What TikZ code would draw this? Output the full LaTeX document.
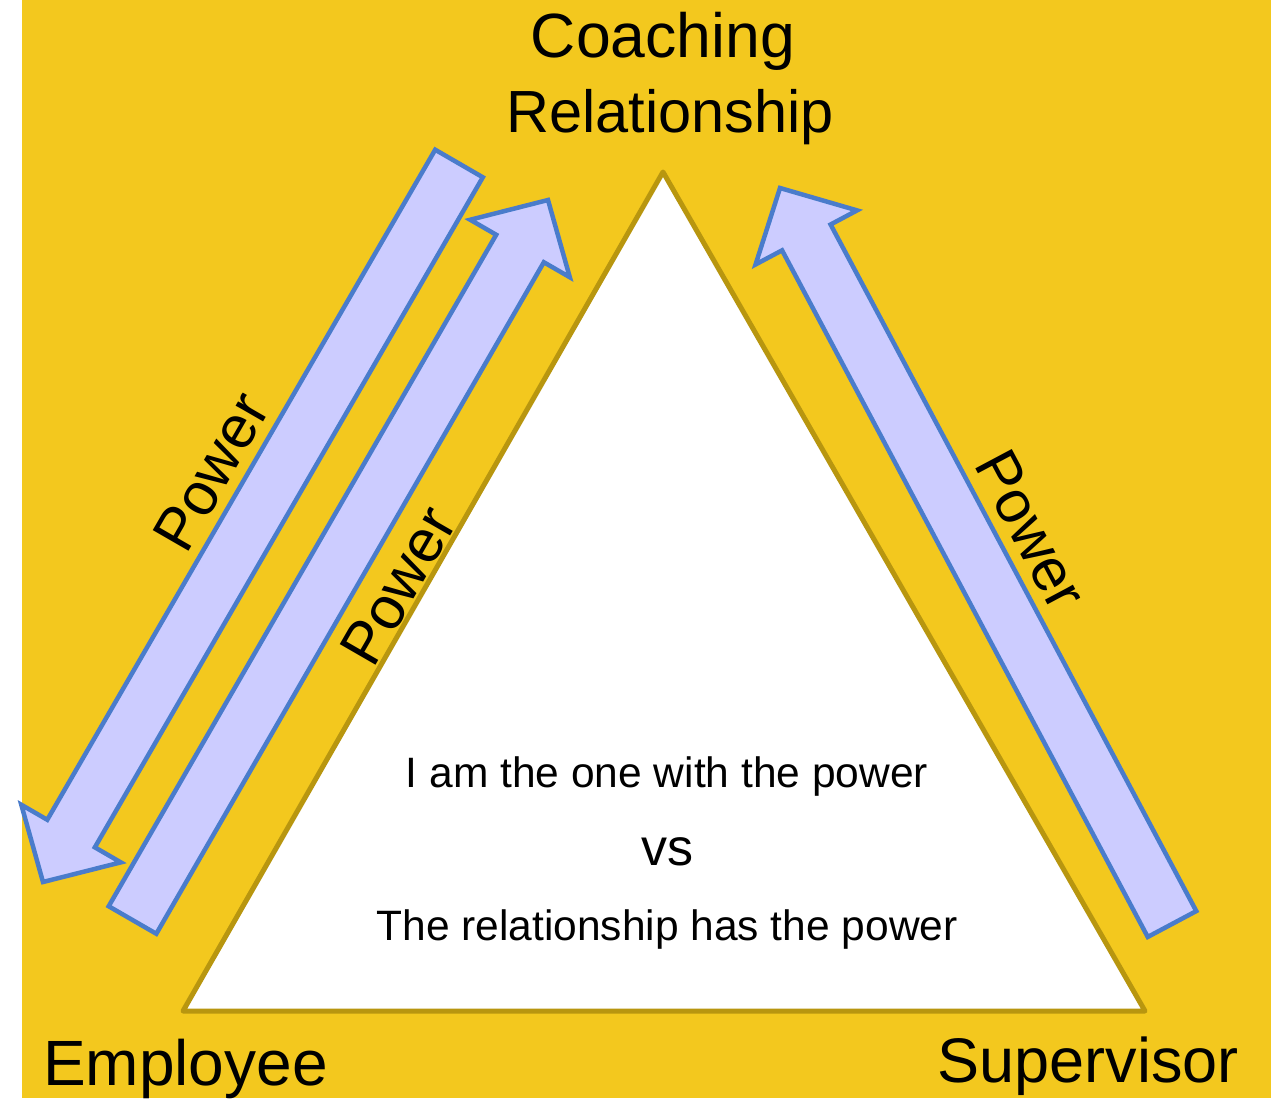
\documentclass[tikz,border=0pt]{standalone}
\usepackage{fontspec}
\setmainfont{Liberation Sans}
\usetikzlibrary{calc}

\definecolor{bgyellow}{HTML}{F3C81E}
\definecolor{arrowfill}{HTML}{CCCCFF}
\definecolor{arrowline}{HTML}{4A7CCB}
\definecolor{triline}{HTML}{B8960F}

\tikzset{
  arrowbody/.style={fill=arrowfill, draw=arrowline, line width=4.5pt, line join=miter},
  tribody/.style={fill=white, draw=triline, line width=5pt, line join=round},
  bigtext/.style={inner sep=0pt, font=\fontsize{63}{75}\selectfont},
  powertext/.style={inner sep=0pt, font=\fontsize{60}{72}\selectfont},
  bodytext/.style={inner sep=0pt, font=\fontsize{42.5}{52}\selectfont},
  vstext/.style={inner sep=0pt, font=\fontsize{52}{60}\selectfont},
}

% wide block arrow from tail centre #1 to tip #2
\newcommand\blockarrow[2]{%
  \coordinate (#2-b) at ($(#2)!56pt!(#1)$);
  \draw[arrowbody]
    ($(#1)!27.5pt!90:(#2)$) -- ($(#2-b)!27.5pt!90:(#2)$) --
    ($(#2-b)!57.5pt!90:(#2)$) -- (#2) --
    ($(#2-b)!57.5pt!-90:(#2)$) -- ($(#2-b)!27.5pt!-90:(#2)$) --
    ($(#1)!27.5pt!-90:(#2)$) -- cycle;}

\begin{document}
\begin{tikzpicture}[x=1pt, y=-1pt]
  \useasboundingbox (0,0) rectangle (1271,1098);
  \fill[white] (0,0) rectangle (1271,1098);
  \fill[bgyellow] (22,0) rectangle (1271,1098);

  % triangle
  \coordinate (apex) at (663,172);
  \coordinate (right) at (1145,1011);
  \coordinate (left) at (183,1011);
  \draw[tribody] (apex) -- (right) -- (left) -- cycle;

  % power arrows
  \coordinate (a1tail) at (459,163.5);
  \coordinate (a1tip) at (43,882);
  \coordinate (a2tail) at (132.5,920);
  \coordinate (a2tip) at (548,200);
  \coordinate (a3tail) at (1172,924);
  \coordinate (a3tip) at (780,188);
  \blockarrow{a1tail}{a1tip}
  \blockarrow{a2tail}{a2tip}
  \blockarrow{a3tail}{a3tip}

  \node[powertext, rotate=60] (p1) at (211,472) {Power};
  \node[powertext, rotate=60] (p2) at (398,586) {Power};
  \node[powertext, rotate=-62] (p3) at (1031,530) {Power};

  % corner labels
  \node[bigtext, anchor=base, font=\fontsize{62.5}{75}\selectfont] (coach) at (663,57) {Coaching};
  \node[bigtext, anchor=base, font=\fontsize{59.5}{75}\selectfont] (rel) at (670,132) {Relationship};
  \node[bigtext, anchor=base west, font=\fontsize{64}{75}\selectfont] (emp) at (43,1085) {Employee};
  \node[bigtext, anchor=base east] (sup) at (1239,1082) {Supervisor};

  % statement inside the triangle
  \node[bodytext, anchor=base] (l1) at (667,787) {I am the one with the power};
  \node[vstext, anchor=base] (vs) at (667,865) {vs};
  \node[bodytext, anchor=base] (l3) at (667,940) {The relationship has the power};
\end{tikzpicture}
\end{document}
